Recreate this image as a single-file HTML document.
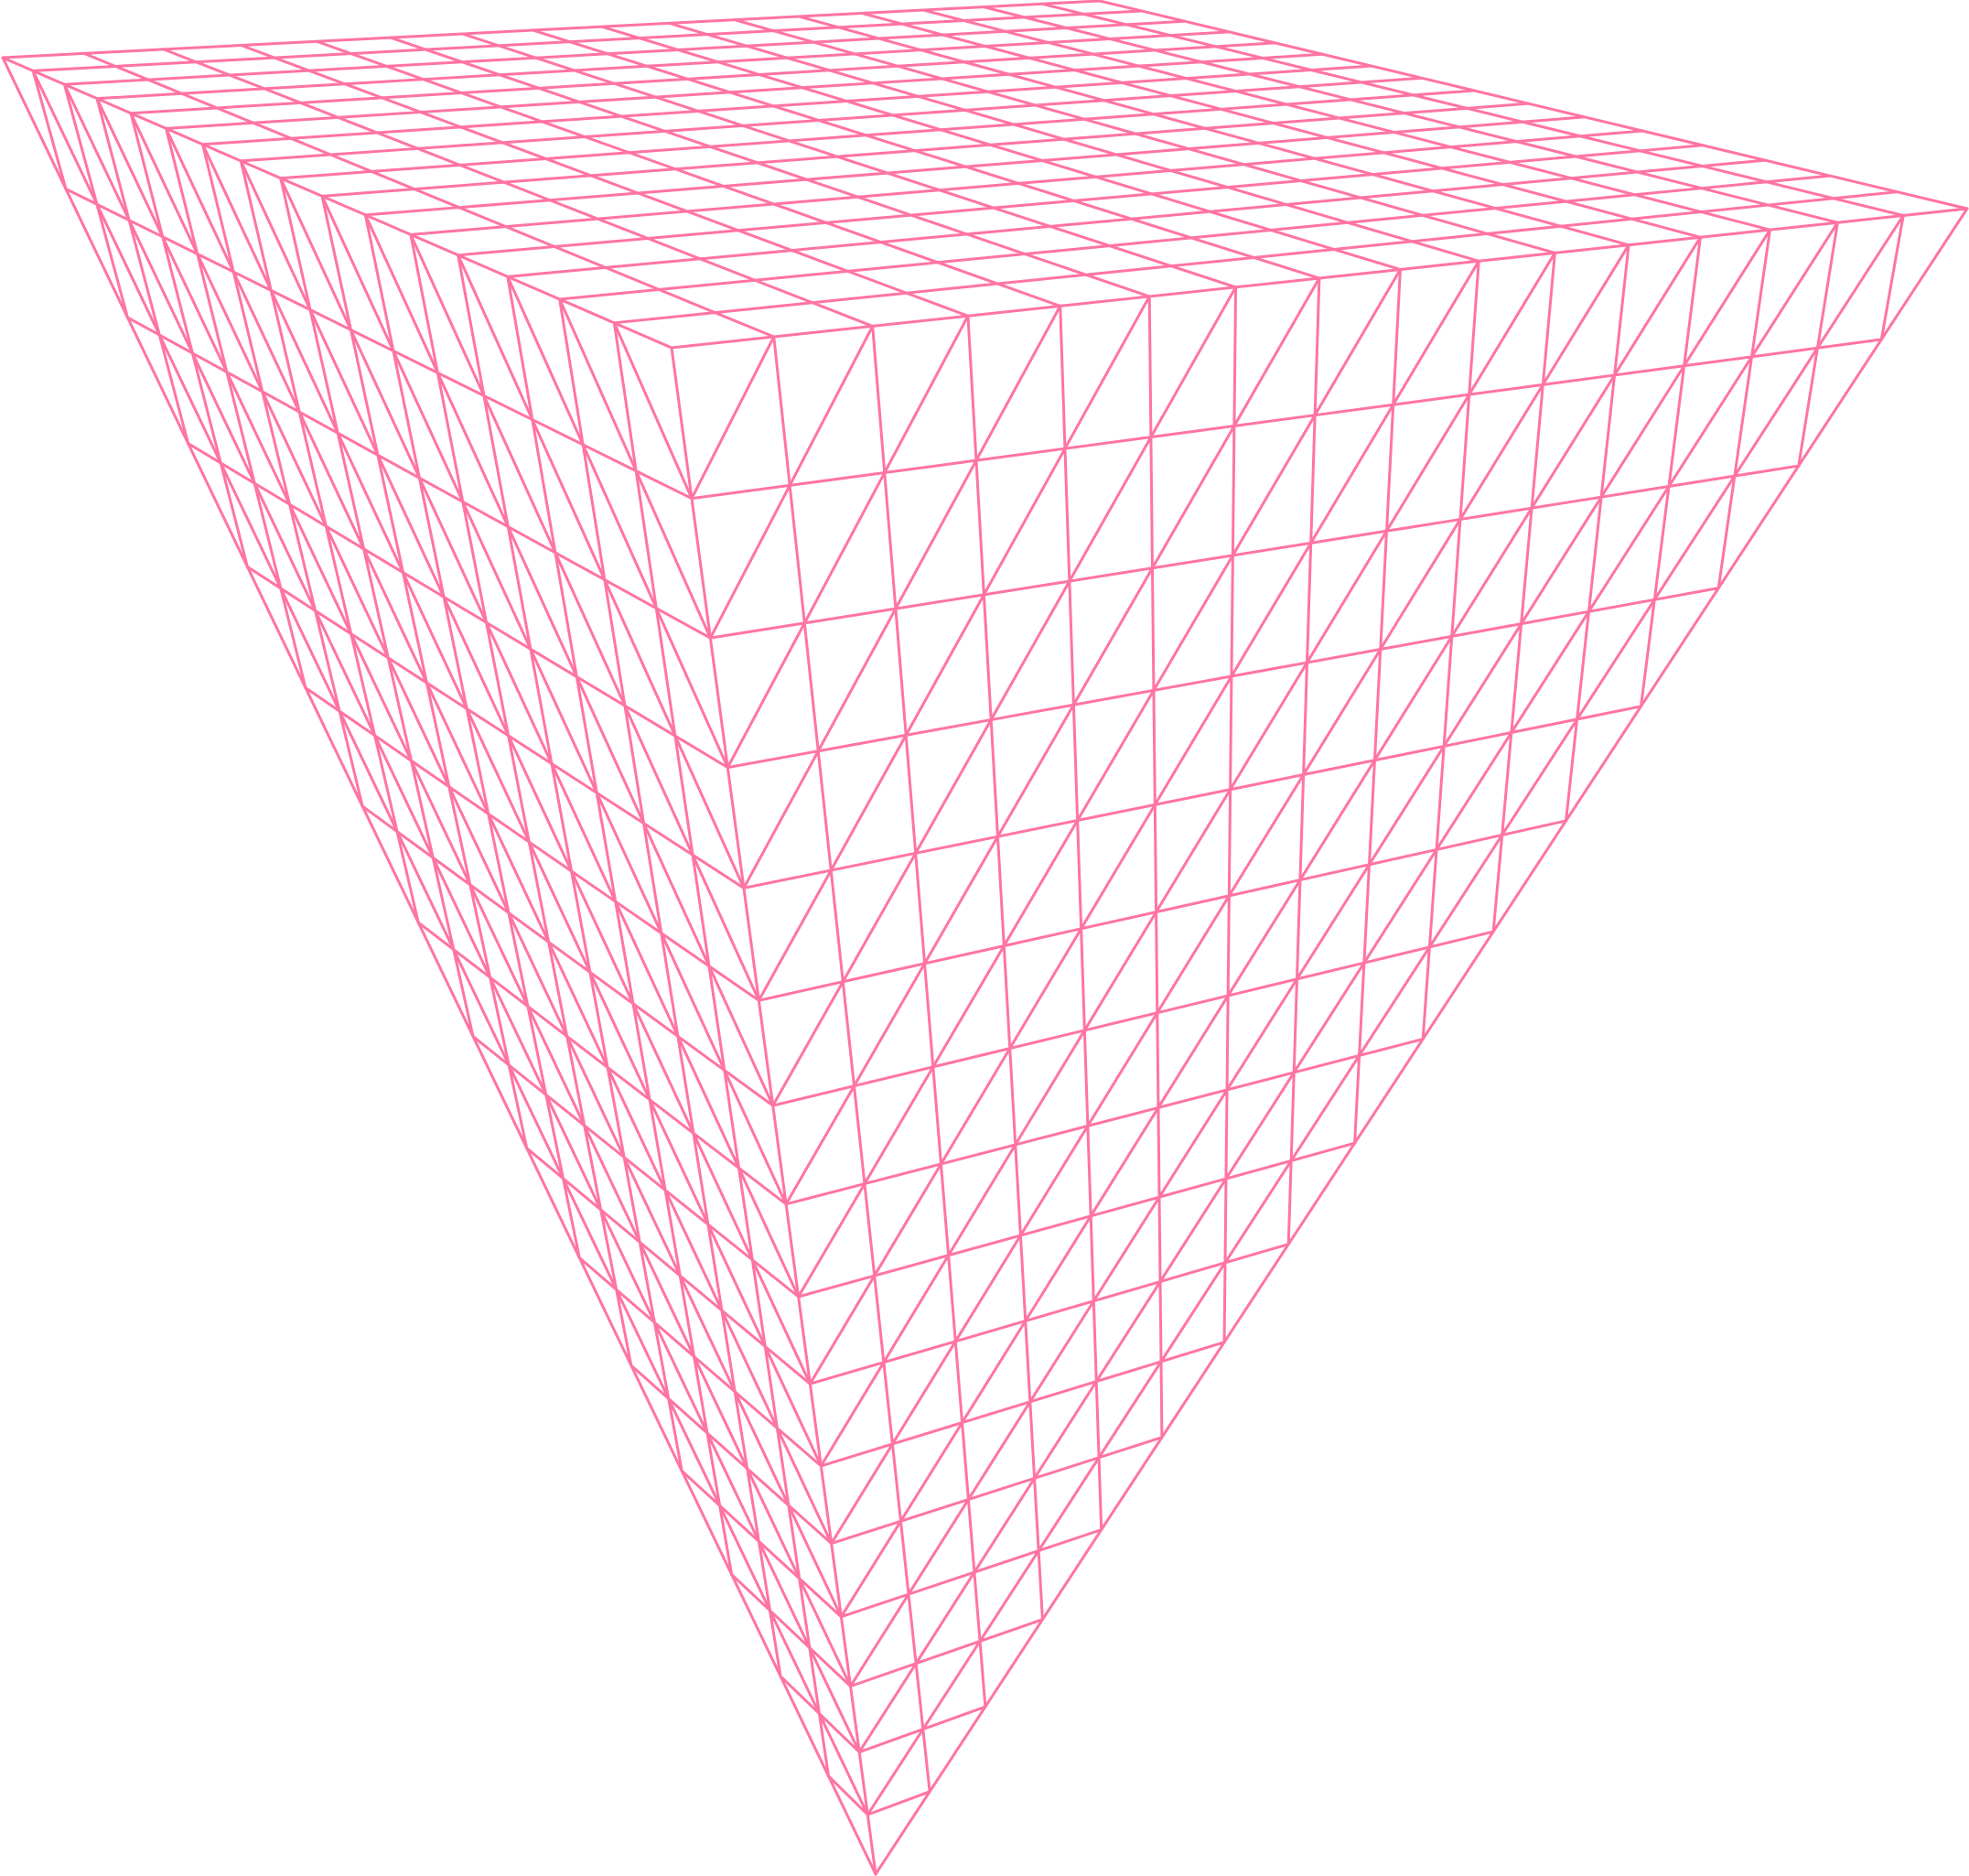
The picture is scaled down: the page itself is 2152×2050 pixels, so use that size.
<!DOCTYPE html>
<html>
<head>
<meta charset="utf-8">
<style>
  html,body{margin:0;padding:0;background:#fff;}
  svg{display:block;}
</style>
</head>
<body>
<svg id="chart" width="2152" height="2050" viewBox="0 0 2152 2050" xmlns="http://www.w3.org/2000/svg">
  <g id="mesh" fill="none" stroke="#ff74a2" stroke-width="3" stroke-linecap="round" stroke-linejoin="round"></g>
</svg>
<script>
// mesh data
const gridDivisions = [16];
const apexPosition = [0.5, 0.5, 1];     // x, y, depth of apex
// screen calibration (projected anchor points of the view)
const anchorX = [3, 734, 2150, 1202];   // A, D, C, B
const anchorY = [63, 380, 228, 1];
const apexScreen = [957, 2048];
const midEdgeScreen = [873, 1417];      // midpoint of front edge D→apex

const N = gridDivisions[0];
const x0=anchorX[0],y0=anchorY[0],x1=anchorX[1],y1=anchorY[1],x2=anchorX[2],y2=anchorY[2],x3=anchorX[3],y3=anchorY[3];
const dx1=x1-x2,dx2=x3-x2,dy1=y1-y2,dy2=y3-y2,sx=x0-x1+x2-x3,sy=y0-y1+y2-y3;
const den=dx1*dy2-dx2*dy1;
const g=(sx*dy2-dx2*sy)/den, h=(dx1*sy-sx*dy1)/den;
const a=x1-x0+g*x1, b=x3-x0+h*x3, c=x0, d=y1-y0+g*y1, e=y3-y0+h*y3, f=y0;
function H(u,v){return [a*u+b*v+c, d*u+e*v+f, g*u+h*v+1];}
const hc=H(apexPosition[0],apexPosition[1]);
const uD=H(1,0);
const lam=(midEdgeScreen[1]*uD[2]-uD[1])/(apexScreen[1]-midEdgeScreen[1]);
const p3=[lam*apexScreen[0]-hc[0], lam*apexScreen[1]-hc[1], lam-hc[2]];
function project(p){
  const q=H(p[0],p[1]); const z=p[2];
  const X=q[0]+z*p3[0], Y=q[1]+z*p3[1], W=q[2]+z*p3[2];
  return [X/W, Y/W];
}
const A3=[0,0,0], D3=[1,0,0], C3=[1,1,0], P3=apexPosition;
function comb(base,v1,s,v2,t){return [0,1,2].map(k=>base[k]+s*v1[k]+t*v2[k]);}
const dDA=[0,1,2].map(k=>D3[k]-A3[k]);
const dCD=[0,1,2].map(k=>C3[k]-D3[k]);
const dPD=[0,1,2].map(k=>P3[k]-D3[k]);
function L(i,j){return project(comb(A3,dDA,i/N,dPD,j/N));}
function R(i,j){return project(comb(D3,dCD,i/N,dPD,j/N));}
function T(i,j){return project([i/N,j/N,0]);}

const mesh=document.getElementById('mesh');
function addPath(pts,name){
  const p=document.createElementNS('http://www.w3.org/2000/svg','path');
  p.setAttribute('d','M'+pts.map(q=>q[0].toFixed(2)+' '+q[1].toFixed(2)).join(' L'));
  
  
  mesh.appendChild(p);
}
function range(lo,hi,fn){const r=[];for(let k=lo;k<=hi;k++)r.push(fn(k));return r;}

// top face grid
for(let i=0;i<=N;i++){ addPath(range(0,N,k=>T(i,k)),'top-grid-line-u'); }
for(let j=0;j<=N;j++){ addPath(range(0,N,k=>T(k,j)),'top-grid-line-v'); }
// left face (triangular grid, valid j<=i)
for(let j=1;j<N;j++){ addPath(range(j,N,k=>L(k,j)),'left-face-row'); }
for(let i=1;i<=N;i++){ addPath(range(0,i,k=>L(i,k)),'left-face-column'); }
for(let i=0;i<N;i++){ for(let j=0;j<=i;j++){ addPath([L(i,j),L(i+1,j+1)],'left-face-diagonal'); } }
// right face (triangular grid, valid i+j<=N)
for(let j=1;j<N;j++){ addPath(range(0,N-j,k=>R(k,j)),'right-face-row'); }
for(let i=1;i<=N;i++){ addPath(range(0,N-i,k=>R(i,k)),'right-face-column'); }
for(let i=0;i<N;i++){ for(let j=0;i+1+j<=N;j++){ addPath([R(i+1,j),R(i,j+1)],'right-face-diagonal'); } }
</script>
</body>
</html>
